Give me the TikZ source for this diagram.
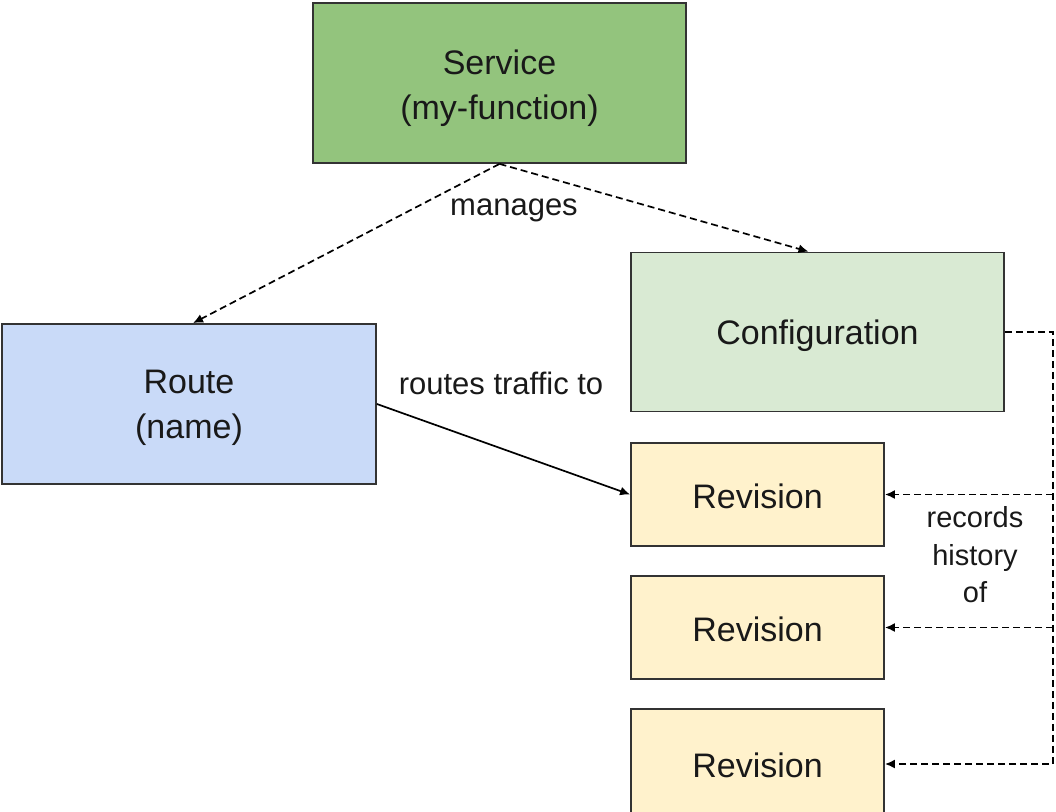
\documentclass[tikz,border=0pt]{standalone}
\usepackage{fontspec}
\setmainfont{Liberation Sans}
\usepackage{xcolor}
\usetikzlibrary{positioning,calc,arrows.meta}

\definecolor{servicegreen}{HTML}{93C47D}
\definecolor{routeblue}{HTML}{C9DAF8}
\definecolor{configgreen}{HTML}{D9EAD3}
\definecolor{revyellow}{HTML}{FFF2CC}
\definecolor{edgegray}{HTML}{333333}

\tikzset{
    box/.style={draw=edgegray, line width=1.8pt, align=center, inner sep=0pt,
        font=\fontsize{34}{45}\selectfont, text=black!90},
    revbox/.style={box, fill=revyellow, minimum width=253pt, minimum height=103pt},
    lbl/.style={font=\fontsize{31}{38}\selectfont, text=black!90, align=center},
    tip/.style={-{Latex[length=10pt,width=9pt]}, line width=1.7pt},
    dashline/.style={tip, dash pattern=on 7pt off 4pt}
}

\begin{document}
\begin{tikzpicture}[x=1pt, y=-1pt]
    \useasboundingbox (0,0) rectangle (1056,811);

    % boxes
    \node[box, fill=servicegreen, minimum width=373pt, minimum height=160pt] (service) at (499.5,83) {};
    \node[box, fill=routeblue, minimum width=374pt, minimum height=160pt] (route) at (189,404) {};
    \node[box, fill=configgreen, minimum width=373pt, minimum height=159pt] (config) at (817.5,332) {};
    \node[revbox] (rev1) at (757.5,494.5) {};
    \node[revbox] (rev2) at (757.5,627.5) {};
    \node[revbox, minimum height=110pt] (rev3) at (757.5,764) {};

    % box texts
    \node[box, draw=none] (servicetxt) at ([yshift=-5pt]service.center) {Service\\(my-function)};
    \node[box, draw=none] (routetxt) at ([yshift=-4pt]route.center) {Route\\(name)};
    \node[box, draw=none] (configtxt) at ([yshift=-4pt]config.center) {Configuration};
    \foreach \r in {rev1,rev2} {
        \node[box, draw=none] (\r txt) at ([yshift=-2pt]\r.center) {Revision};
    }
    \node[box, draw=none] (rev3txt) at (757.5,765) {Revision};

    % labels
    \node[lbl] (manages) at (514,210) {manages};
    \node[lbl] (routes) at (501,383) {routes traffic to};
    \node[lbl, font=\fontsize{29}{37.5}\selectfont] (history) at (975,555) {records\\history\\of};

    % connectors
    \draw[dashline] (service.south) -- ([xshift=4pt]route.north);
    \draw[dashline] (service.south) -- ([xshift=-9pt]config.north);
    \draw[tip] (route.east) -- (rev1.west);

    \coordinate (rail) at (1053,332);
    \draw[dashline] (config.east) -- (rail) |- (rev3.east);
    \draw[dashline] (rail |- rev1.east) -- (rev1.east);
    \draw[dashline] (rail |- rev2.east) -- (rev2.east);
\end{tikzpicture}
\end{document}
